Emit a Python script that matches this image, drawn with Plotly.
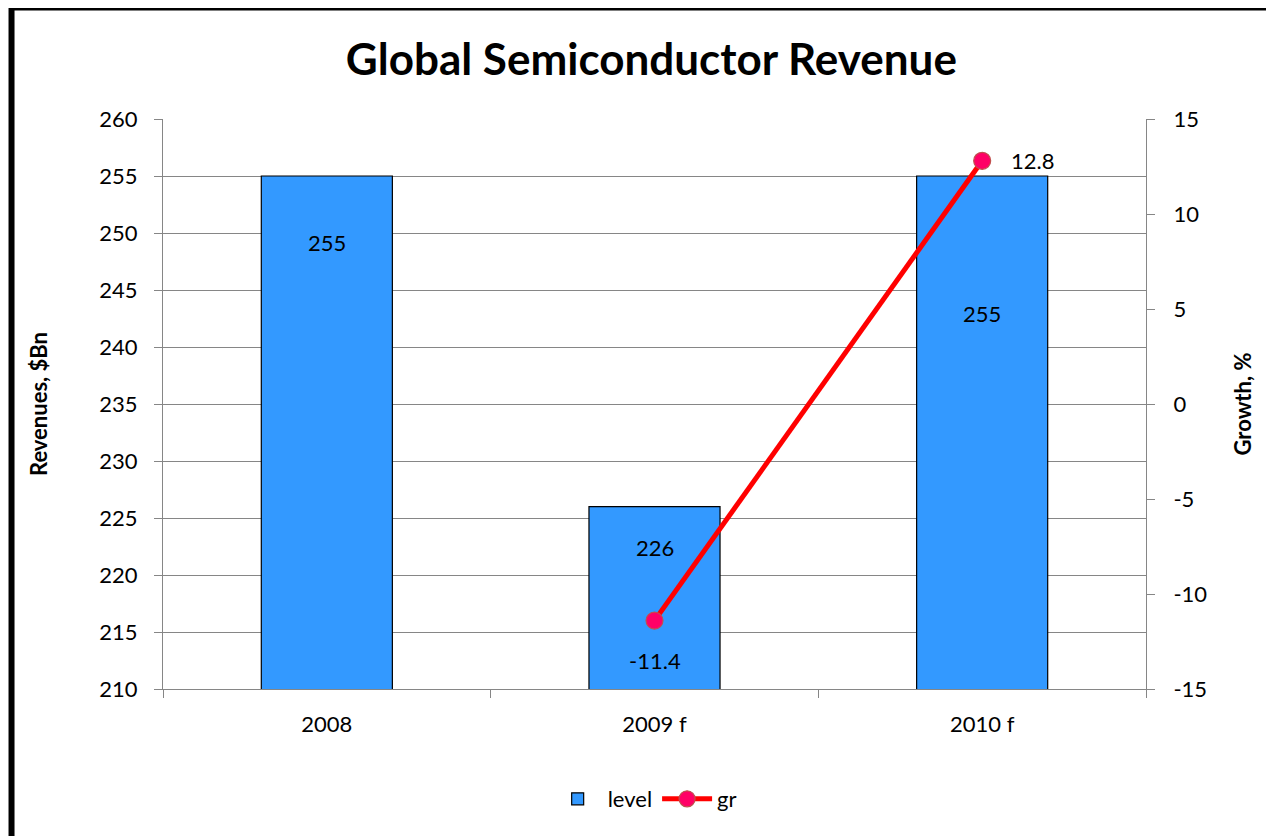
import plotly.graph_objects as go

# data
years = ["2008", "2009 f", "2010 f"]
level = [255, 226, 255]
growth = [None, -11.4, 12.8]

left_ticks = [210, 215, 220, 225, 230, 235, 240, 245, 250, 255, 260]
right_ticks = [-15, -10, -5, 0, 5, 10, 15]
right_labels = ["-15", "-10", "-5", "0", "5", "10", "15"]

FONT = "Lato"
GRID = "#868686"

fig = go.Figure()

# revenue bars

fig.add_trace(
    go.Bar(
        x=years,
        y=level,
        name="level",
        width=0.4,
        marker=dict(color="#3399FF", line=dict(color="black", width=1.2)),
        yaxis="y"
    )
)

# growth line

fig.add_trace(
    go.Scatter(
        x=years,
        y=growth,
        name="gr",
        mode="lines+markers",
        line=dict(color="#FF0000", width=5),
        marker=dict(size=17, color="#FF0066", line=dict(color="#C0504D", width=1.2)),
        yaxis="y2"
    )
)

# labels: bar values sit at manually nudged spots like the original
# (annotation x uses the category index so "2008" is not read as a number)
bar_shift = [-66, -41, -137]
annotations = []
for i, (v, s) in enumerate(zip(level, bar_shift)):
    annotations.append(dict(
        x=i, y=v, xref="x", yref="y", text=str(v), showarrow=False,
        yshift=s, font=dict(size=22, color="black")
    ))

gr_shift = [(0, 0), (0, -40), (50, 0)]
for i, (g, (dx, dy)) in enumerate(zip(growth, gr_shift)):
    if g is None:
        continue
    annotations.append(dict(
        x=i, y=g, xref="x", yref="y2", text=str(g), showarrow=False,
        xshift=dx, yshift=dy, font=dict(size=22, color="black")
    ))

fig.update_layout(
    width=1274,
    height=836,
    margin=dict(l=155, r=136, t=111, b=155),
    paper_bgcolor="white",
    plot_bgcolor="white",
    font=dict(family=FONT, size=22, color="black"),
    title=dict(
        text="<b>Global Semiconductor Revenue</b>",
        x=0.505, xanchor="center",
        y=0.938, yanchor="middle",
        font=dict(size=44, family=FONT)
    ),
    showlegend=True,
    legend=dict(
        orientation="h",
        x=0.49, xanchor="center",
        y=-0.193, yanchor="middle",
        font=dict(size=22),
        itemwidth=50,
        traceorder="normal"
    ),
    annotations=annotations,
    shapes=[
        dict(
            type="rect", xref="paper", yref="paper",
            x0=-0.1541, x1=1.2, y0=-0.35, y1=1.1956,
            line=dict(color="black", width=6), layer="above"
        )
    ],
    xaxis=dict(
        type="category",
        categoryorder="array",
        categoryarray=years,
        range=[-0.5, 2.5],
        showline=True,
        linecolor=GRID,
        linewidth=1,
        ticks="outside",
        tickson="boundaries",
        ticklen=8,
        tickcolor=GRID,
        ticklabelstandoff=16,
        tickfont=dict(size=22)
    ),
    yaxis=dict(
        range=[210, 260],
        tickvals=left_ticks,
        showgrid=True,
        gridcolor=GRID,
        gridwidth=1,
        showline=True,
        linecolor=GRID,
        ticks="outside",
        ticklen=8,
        tickcolor=GRID,
        ticklabelstandoff=12,
        zeroline=False,
        title=dict(text="<b>Revenues, $Bn</b>", font=dict(size=22), standoff=45)
    ),
    yaxis2=dict(
        range=[-15, 15],
        tickvals=right_ticks,
        ticktext=right_labels,
        overlaying="y",
        side="right",
        showgrid=False,
        zeroline=False,
        showline=True,
        linecolor=GRID,
        ticks="outside",
        ticklen=8,
        tickcolor=GRID,
        ticklabelstandoff=14,
        title=dict(text="<b>Growth, %</b>", font=dict(size=22), standoff=29)
    )
)

fig.write_html("out.html")
